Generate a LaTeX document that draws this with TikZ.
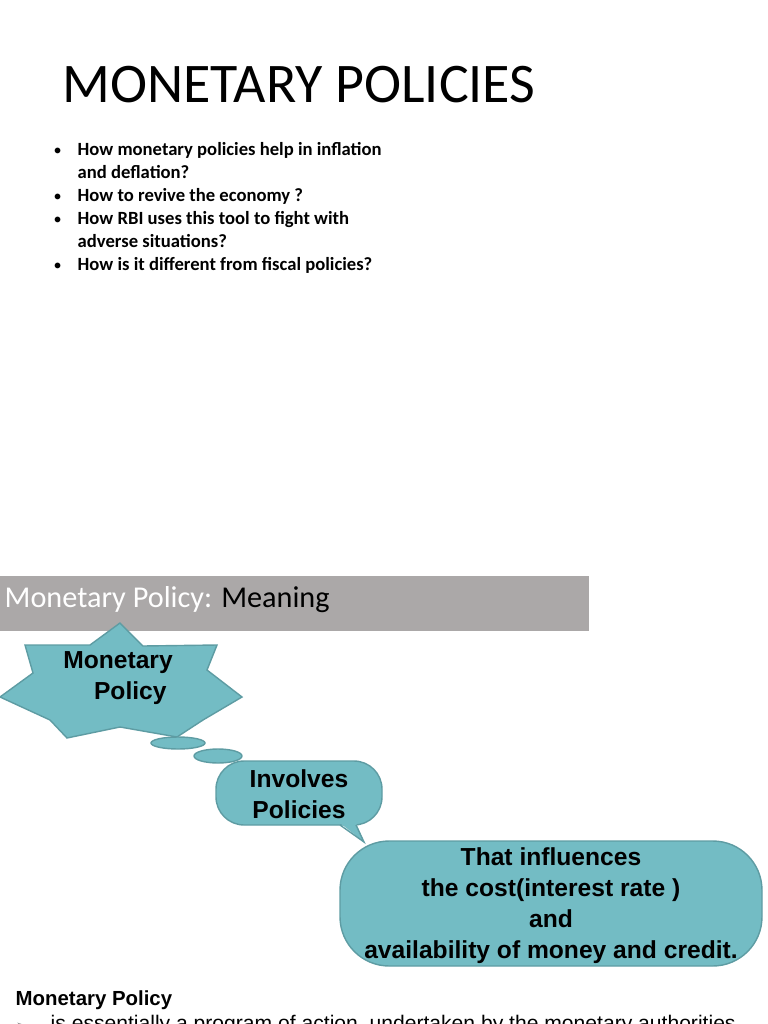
\documentclass[tikz,border=0pt]{standalone}
\usepackage{fontspec}
\setmainfont{Carlito}
\newfontfamily\arialfont{Liberation Sans}
\newfontfamily\symfont{DejaVu Sans}
\definecolor{tealfill}{HTML}{73BCC4}
\definecolor{tealline}{HTML}{5E9CA3}
\definecolor{barfill}{HTML}{ABA8A8}
\tikzset{
  bubble/.style={fill=tealfill, draw=tealline, line width=0.4pt},
  boxtext/.style={font=\arialfont\bfseries\fontsize{7}{8.8}\selectfont, align=center},
  bullettext/.style={font=\bfseries\fontsize{5.3}{6.55}\selectfont, anchor=base west, align=flush left, text width=3.22cm, inner sep=0pt}
}
\begin{document}
\begin{tikzpicture}[x=0.01cm, y=-0.01cm]
    \useasboundingbox (0,0) rectangle (768,1024);
    \clip (0,0) rectangle (768,1024);

    % Title and questions
    \node[anchor=base west, inner sep=0pt, font=\fontsize{15.9}{18}\selectfont] (title) at (62,102) {MONETARY POLICIES};
    \foreach \yy/\txt in {155/How monetary policies help in inflation and deflation?,
                          201/How to revive the economy ?,
                          224/How RBI uses this tool to fight with adverse situations?,
                          270/How is it different from fiscal policies?} {
      \node[font=\fontsize{4.6}{6.55}\selectfont, anchor=base west, inner sep=0pt] at (53,\yy) {•};
      \node[bullettext] at (77,\yy) {\txt};
    }

    % Heading bar
    \fill[barfill] (0,576) rectangle (589,631);
    \node[anchor=west, inner sep=0pt, font=\fontsize{8.6}{10}\selectfont] (bar) at (4,600)
      {\textcolor{white}{Monetary Policy:} Meaning};

    % Star
    \draw[bubble] (120,623) -- (143,646) -- (217,645) -- (207,670) -- (242,697) -- (203,720)
      -- (177,737) -- (120,727) -- (67,738) -- (50,720) -- (0,697) -- (33,673) -- (25,645)
      -- (90,645) -- cycle;
    \node[boxtext] (star) at (118,678) {Monetary\\\quad Policy};

    % Thought bubbles
    \draw[bubble] (178,743) ellipse (27 and 6);
    \draw[bubble] (218,756) ellipse (24 and 7);

    % Involves box with tail
    \draw[bubble, rounded corners=8] (216,761) rectangle (382,825);
    \fill[tealfill] (340,823) -- (364,842) -- (356,823) -- cycle;
    \draw[tealline, line width=0.4pt] (340,825) -- (364,842) -- (356,825);
    \node[boxtext] (involves) at (299,794) {Involves\\Policies};

    % Big box
    \draw[bubble, rounded corners=14] (340,841) rectangle (762,966);
    \node[boxtext] (influence) at (551,906)
      {That influences\\the cost(interest rate )\\and\\availability of money and credit.};

    % Bottom text
    \node[anchor=base west, inner sep=0pt, font=\arialfont\bfseries\fontsize{5.8}{7}\selectfont] (mp) at (15,1005) {Monetary Policy};
    \node[anchor=base west, inner sep=0pt, font=\symfont\fontsize{4}{5}\selectfont, gray] at (15,1030) {➢};
    \node[anchor=base west, inner sep=0pt, font=\arialfont\fontsize{6}{7}\selectfont] at (50,1030)
      {is essentially a program of action, undertaken by the monetary authorities};
\end{tikzpicture}
\end{document}
